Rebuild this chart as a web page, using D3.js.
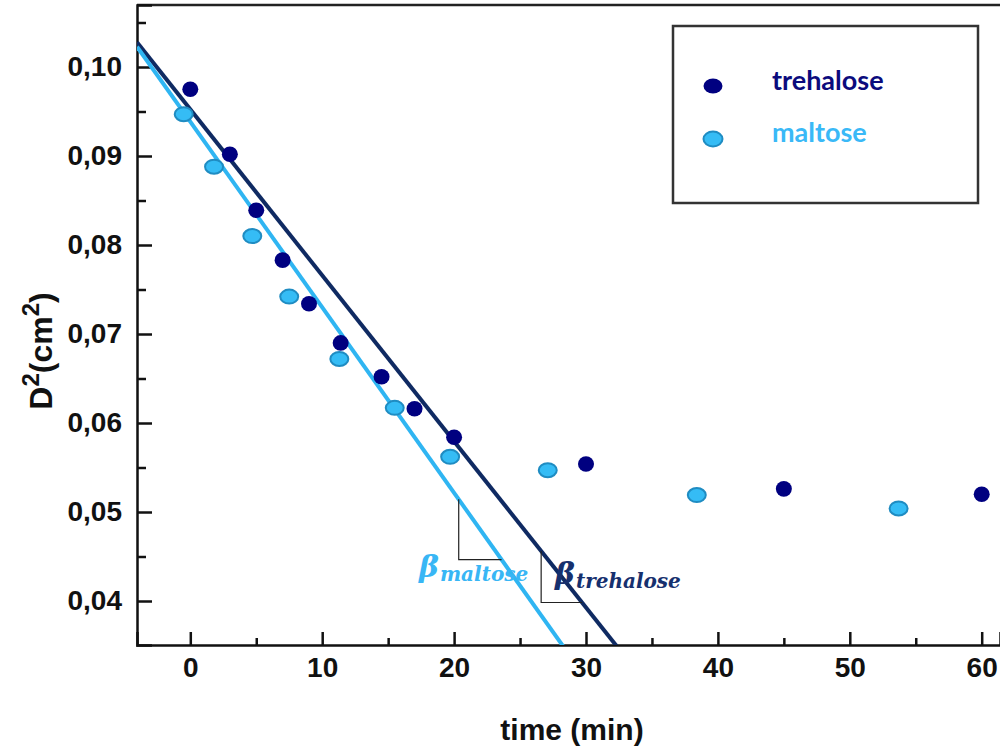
<!DOCTYPE html>
<html>
<head>
<meta charset="utf-8">
<script src="https://cdn.jsdelivr.net/npm/d3@7"></script>
<style>
  html, body { margin: 0; padding: 0; background: #fff; }
  svg { display: block; }
</style>
</head>
<body>
<svg id="chart" width="1000" height="749"></svg>
<script>
// Droplet diameter squared D² (cm²) versus time (min)
const trehaloseTime = [0, 3, 5, 7, 9, 11.4, 14.5, 17, 20, 30, 45, 60];
const trehaloseD2   = [0.0975, 0.0902, 0.0839, 0.0783, 0.0734, 0.0690, 0.0652, 0.0616, 0.0584, 0.0554, 0.0526, 0.0520];

const maltoseTime = [-0.5, 1.8, 4.7, 7.5, 11.3, 15.5, 19.7, 27.1, 38.4, 53.7];
const maltoseD2   = [0.0947, 0.0888, 0.0810, 0.0742, 0.0672, 0.0617, 0.0562, 0.0547, 0.0519, 0.0504];

// Linear fits of the shrinking phase: D² = intercept + slope · t
const trehaloseFit = { intercept: 0.09525, slope: -0.001866 };
const maltoseFit   = { intercept: 0.09385, slope: -0.002085 };

// Slope triangles: vertical drop at t1, horizontal leg to t2
const trehaloseTriangle = [26.6, 29.7];
const maltoseTriangle   = [20.35, 23.6];

const xMajorTicks = [0, 10, 20, 30, 40, 50, 60];
const xMinorTicks = [5, 15, 25, 35, 45, 55];
const yMajorTicks = [0.04, 0.05, 0.06, 0.07, 0.08, 0.09, 0.10];
const yMinorTicks = [0.045, 0.055, 0.065, 0.075, 0.085, 0.095, 0.105];

const seriesNames = ["trehalose", "maltose"];

const svg = d3.select("#chart");

// Scales anchored on the tick grid, then widened to the frame edges
const frame = { left: 137, right: 1000, top: 5, bottom: 645 };
const x0 = d3.scaleLinear().domain([0, 60]).range([190.3, 981.7]);
const y0 = d3.scaleLinear().domain([0.04, 0.10]).range([601, 67]);
const x = d3.scaleLinear().domain([x0.invert(frame.left), x0.invert(frame.right)]).range([frame.left, frame.right]);
const y = d3.scaleLinear().domain([y0.invert(frame.bottom), y0.invert(frame.top)]).range([frame.bottom, frame.top]);

const comma = v => d3.format(".2f")(v).replace(".", ",");

svg.append("defs").append("clipPath").attr("id", "plotClip")
  .append("rect").attr("x", frame.left).attr("y", frame.top)
  .attr("width", frame.right - frame.left).attr("height", frame.bottom - frame.top);

// Frame top line
svg.append("line")
  .attr("x1", frame.left).attr("x2", frame.right).attr("y1", frame.top).attr("y2", frame.top)
  .attr("stroke", "#222").attr("stroke-width", 2.5);

// Axes
const axisFont = "'Liberation Sans', Arial, sans-serif";

const xAxis = svg.append("g").attr("transform", `translate(0,${frame.bottom})`)
  .call(d3.axisBottom(x).tickValues(xMajorTicks).tickSize(-13).tickPadding(12).tickFormat(d3.format("d")));
svg.append("g").attr("transform", `translate(0,${frame.bottom})`)
  .call(d3.axisBottom(x).tickValues(xMinorTicks).tickSize(-7).tickFormat(""))
  .call(g => g.select(".domain").remove());

const yAxis = svg.append("g").attr("transform", `translate(${frame.left},0)`)
  .call(d3.axisLeft(y).tickValues(yMajorTicks).tickSize(-15).tickPadding(15).tickFormat(comma));
svg.append("g").attr("transform", `translate(${frame.left},0)`)
  .call(d3.axisLeft(y).tickValues(yMinorTicks).tickSize(-9).tickFormat(""))
  .call(g => g.select(".domain").remove());

svg.selectAll(".domain").attr("stroke", "#111").attr("stroke-width", 2.5);
svg.selectAll(".tick line").attr("stroke", "#111").attr("stroke-width", 2.5);
svg.selectAll(".tick text")
  .attr("font-family", axisFont).attr("font-weight", "bold").attr("font-size", 28).attr("fill", "#111");
xAxis.selectAll(".tick text").attr("dy", "0.71em");

// Axis titles
svg.append("text")
  .attr("x", 572).attr("y", 740).attr("text-anchor", "middle")
  .attr("font-family", axisFont).attr("font-weight", "bold").attr("font-size", 30).attr("fill", "#111")
  .text("time (min)");

const yTitle = svg.append("text")
  .attr("transform", "translate(52,351) rotate(-90)")
  .attr("text-anchor", "middle")
  .attr("font-family", axisFont).attr("font-weight", "bold").attr("font-size", 32).attr("fill", "#111");
yTitle.append("tspan").text("D");
yTitle.append("tspan").attr("font-size", 24).attr("dy", -13).text("2");
yTitle.append("tspan").attr("dy", 13).text("(cm");
yTitle.append("tspan").attr("font-size", 24).attr("dy", -13).text("2");
yTitle.append("tspan").attr("dy", 13).text(")");

// Fit lines, clipped to the plot frame
const plot = svg.append("g").attr("clip-path", "url(#plotClip)");
const fitLine = (fit, color) => {
  const ts = x.domain();
  plot.append("line")
    .attr("x1", x(ts[0])).attr("y1", y(fit.intercept + fit.slope * ts[0]))
    .attr("x2", x(ts[1])).attr("y2", y(fit.intercept + fit.slope * ts[1]))
    .attr("stroke", color).attr("stroke-width", 4);
};
fitLine(trehaloseFit, "#0f2a62");
fitLine(maltoseFit, "#2fb5f2");

// Slope triangles
const triangle = (fit, [t1, t2]) => {
  const f = t => fit.intercept + fit.slope * t;
  svg.append("path")
    .attr("d", `M${x(t1)},${y(f(t1))} V${y(f(t2))} H${x(t2)}`)
    .attr("fill", "none").attr("stroke", "#222").attr("stroke-width", 1.2);
};
triangle(maltoseFit, maltoseTriangle);
triangle(trehaloseFit, trehaloseTriangle);

// Slope labels
const betaLabel = (xPos, yPos, sub, color) => {
  const t = svg.append("text").attr("x", xPos).attr("y", yPos)
    .attr("font-family", "'DejaVu Serif', 'Liberation Serif', serif")
    .attr("font-style", "italic").attr("font-weight", "bold").attr("fill", color);
  t.append("tspan").attr("font-size", 30).text("β");
  t.append("tspan").attr("font-size", 20).attr("dy", 4).attr("dx", 1).text(sub);
};
betaLabel(419, 577, "maltose", "#38b6f5");
betaLabel(555, 584, "trehalose", "#16306e");

// Data points
svg.append("g").selectAll("ellipse")
  .data(trehaloseTime.map((t, i) => [t, trehaloseD2[i]]))
  .join("ellipse")
  .attr("cx", d => x(d[0])).attr("cy", d => y(d[1]))
  .attr("rx", 8).attr("ry", 7.8)
  .attr("fill", "#000080");

svg.append("g").selectAll("ellipse")
  .data(maltoseTime.map((t, i) => [t, maltoseD2[i]]))
  .join("ellipse")
  .attr("cx", d => x(d[0])).attr("cy", d => y(d[1]))
  .attr("rx", 9).attr("ry", 7)
  .attr("fill", "#35bcf5").attr("stroke", "#1f8cc2").attr("stroke-width", 2);

// Legend
const legend = svg.append("g");
legend.append("rect")
  .attr("x", 673).attr("y", 26).attr("width", 305).attr("height", 177)
  .attr("fill", "#fff").attr("stroke", "#333").attr("stroke-width", 2.5);
const legendColors = { trehalose: "#0b0b7d", maltose: "#3ab9f7" };
seriesNames.forEach((name, i) => {
  const cy = 86 + i * 53;
  const m = legend.append("ellipse").attr("cx", 713).attr("cy", cy).attr("rx", 9.5).attr("ry", 7.5);
  if (name === "trehalose") m.attr("fill", "#000080");
  else m.attr("fill", "#35bcf5").attr("stroke", "#1f8cc2").attr("stroke-width", 2);
  legend.append("text")
    .attr("x", 772).attr("y", cy + 4 - i * 1)
    .attr("font-family", "Lato, 'Open Sans', sans-serif").attr("font-weight", "bold").attr("font-size", 27)
    .attr("fill", legendColors[name])
    .text(name);
});
</script>
</body>
</html>
